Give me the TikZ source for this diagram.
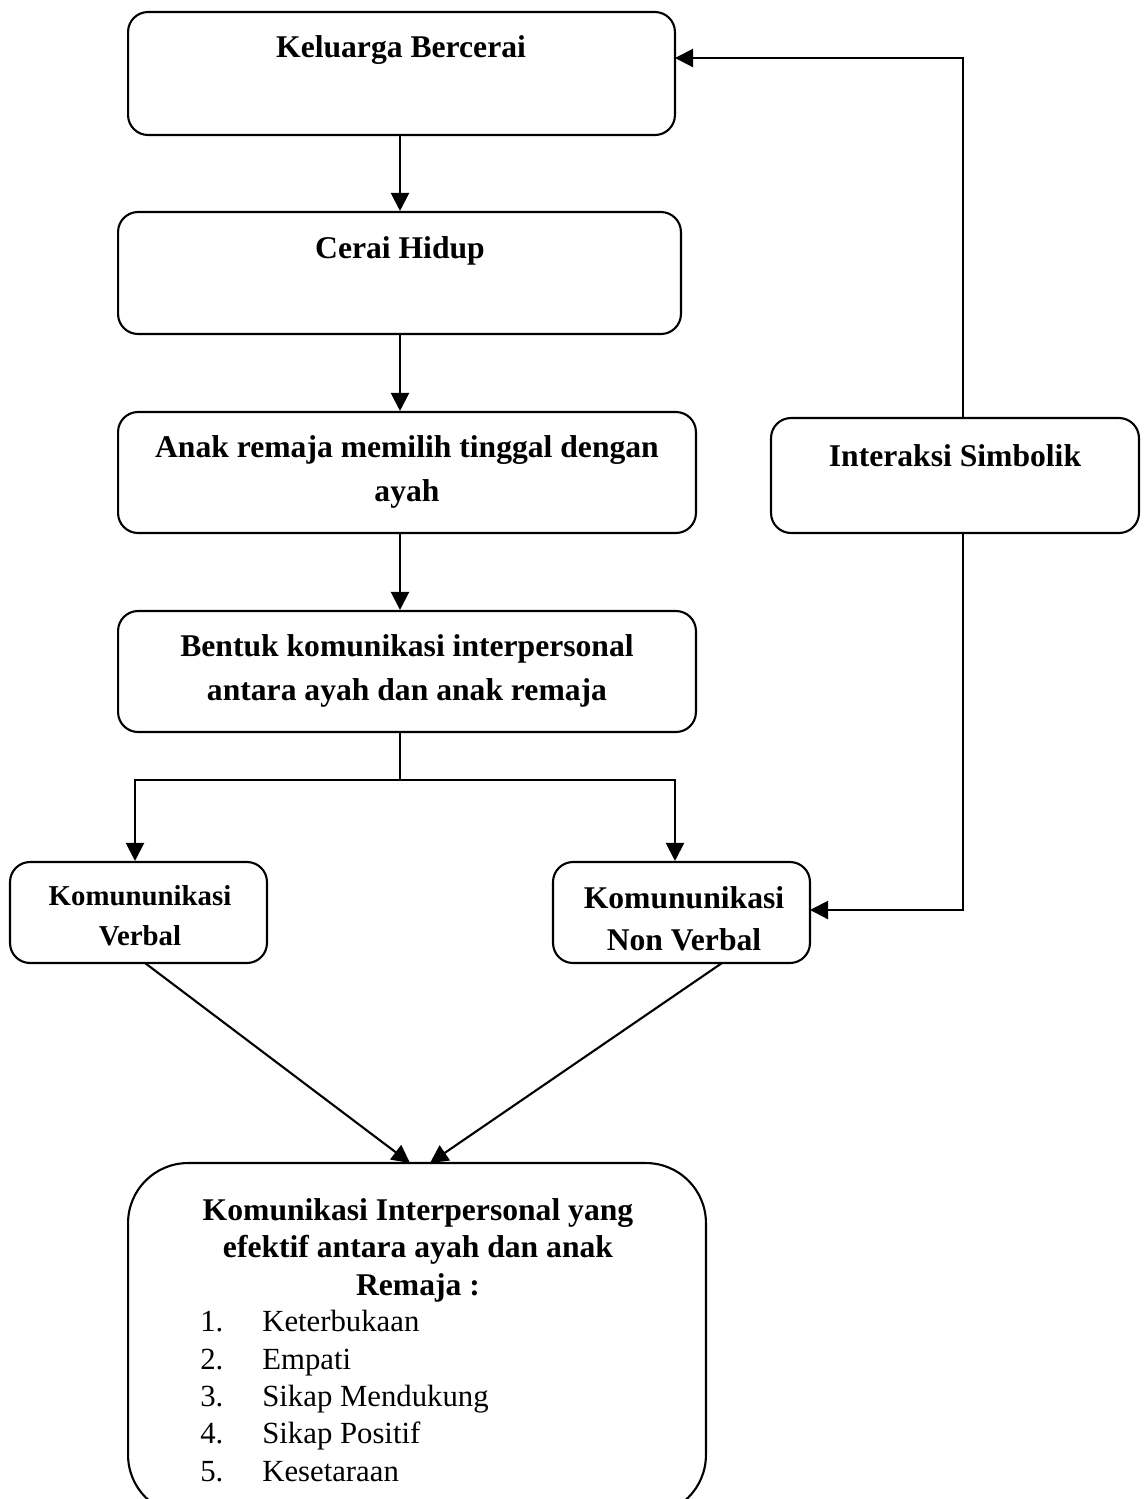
\documentclass[tikz,border=0pt]{standalone}
\usepackage{fontspec}
\setmainfont{Liberation Serif}
\usetikzlibrary{arrows.meta}
\begin{document}
\begin{tikzpicture}[x=0.02cm,y=-0.02cm,
  box/.style={draw, line width=1.2pt, rounded corners=0.4cm, inner sep=0pt},
  lbl/.style={font=\fontsize{18}{21.3}\selectfont\bfseries, align=center, inner sep=0pt},
  wide/.style={font=\fontsize{18}{25}\selectfont\bfseries},
  arr/.style={line width=1.2pt, -{Triangle[length=0.36cm,width=0.36cm]}},
  ln/.style={line width=1.2pt}]
\useasboundingbox (0,0) rectangle (1145,1499);
\clip (0,0) rectangle (1145,1499);
% boxes
\node[box, minimum width=10.94cm, minimum height=2.46cm] (b1) at (401.5,73.5) {};
\node[box, minimum width=11.26cm, minimum height=2.44cm] (b2) at (399.5,273) {};
\node[box, minimum width=11.56cm, minimum height=2.42cm] (b3) at (407,472.5) {};
\node[box, minimum width=11.56cm, minimum height=2.42cm] (b4) at (407,671.5) {};
\node[box, minimum width=5.14cm, minimum height=2.02cm] (b5) at (138.5,912.5) {};
\node[box, minimum width=5.14cm, minimum height=2.02cm] (b6) at (681.5,912.5) {};
\node[box, minimum width=7.36cm, minimum height=2.3cm] (b7) at (955,475.5) {};
\node[box, rounded corners=1.2cm, minimum width=11.56cm, minimum height=7.04cm] (b8) at (417,1339) {};
% texts
\node[lbl] (t1) at (401,50) {Keluarga Bercerai};
\node[lbl] (t2) at (400,251) {Cerai Hidup};
\node[lbl, wide] (t3) at (407,472) {Anak remaja memilih tinggal dengan\\ayah};
\node[lbl, wide] (t4) at (407,671) {Bentuk komunikasi interpersonal\\antara ayah dan anak remaja};
\node[lbl, font=\fontsize{16.4}{22.7}\selectfont\bfseries] (t5) at (140,916) {Komununikasi\\Verbal};
\node[lbl, font=\fontsize{18}{23.8}\selectfont\bfseries] (t6) at (684,919) {Komununikasi\\Non Verbal};
\node[lbl] (t7) at (955,456) {Interaksi Simbolik};
\node[lbl] (t8) at (418,1250) {Komunikasi Interpersonal yang\\efektif antara ayah dan anak\\Remaja :};
\node[lbl, font=\fontsize{17.5}{21.3}\selectfont, align=left, anchor=west] (t9) at (200,1396) {%
\makebox[1.24cm][l]{1.}Keterbukaan\\
\makebox[1.24cm][l]{2.}Empati\\
\makebox[1.24cm][l]{3.}Sikap Mendukung\\
\makebox[1.24cm][l]{4.}Sikap Positif\\
\makebox[1.24cm][l]{5.}Kesetaraan};
% connectors
\coordinate (jC) at (400,780);
\coordinate (jL) at (135,780);
\coordinate (jR) at (675,780);
\coordinate (v1) at (145,963);
\coordinate (v2) at (410,1163);
\coordinate (n1) at (722,963);
\coordinate (n2) at (430,1163);
\coordinate (f1) at (963,418);
\coordinate (f2) at (675,58);
\coordinate (g1) at (963,533);
\coordinate (g2) at (810,910);
\draw[arr] (b1.south -| jC) -- (b2.north -| jC);
\draw[arr] (b2.south -| jC) -- (b3.north -| jC);
\draw[arr] (b3.south -| jC) -- (b4.north -| jC);
\draw[ln] (b4.south -| jC) -- (jC);
\draw[arr] (jC) -- (jL) -- (jL |- b5.north);
\draw[arr] (jC) -- (jR) -- (jR |- b6.north);
\draw[arr] (v1) -- (v2);
\draw[arr] (n1) -- (n2);
\draw[arr] (f1) |- (f2);
\draw[arr] (g1) |- (g2);
\end{tikzpicture}
\end{document}
